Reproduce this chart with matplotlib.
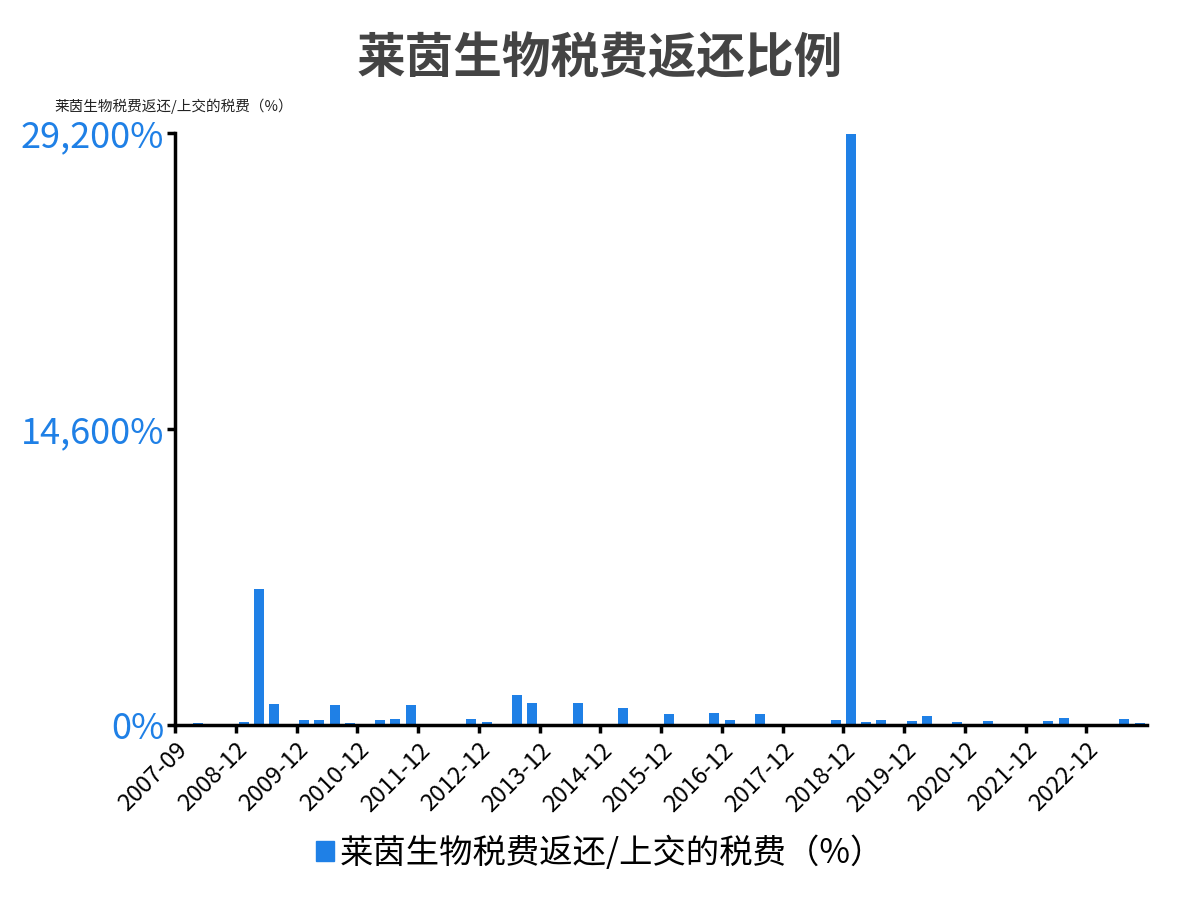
import matplotlib
matplotlib.use("Agg")
import matplotlib.pyplot as plt
from matplotlib.ticker import FuncFormatter
from matplotlib.patches import Patch

plt.rcParams['font.family'] = ['Noto Sans CJK SC', 'DejaVu Sans']

categories = ["2007-09", "2007-12", "2008-06", "2008-09", "2008-12",
              "2009-03", "2009-06", "2009-09", "2009-12",
              "2010-03", "2010-06", "2010-09", "2010-12",
              "2011-03", "2011-06", "2011-09", "2011-12",
              "2012-03", "2012-06", "2012-09", "2012-12",
              "2013-03", "2013-06", "2013-09", "2013-12",
              "2014-03", "2014-06", "2014-09", "2014-12",
              "2015-03", "2015-06", "2015-09", "2015-12",
              "2016-03", "2016-06", "2016-09", "2016-12",
              "2017-03", "2017-06", "2017-09", "2017-12",
              "2018-03", "2018-06", "2018-09", "2018-12",
              "2019-03", "2019-06", "2019-09", "2019-12",
              "2020-03", "2020-06", "2020-09", "2020-12",
              "2021-03", "2021-06", "2021-09", "2021-12",
              "2022-03", "2022-06", "2022-09", "2022-12",
              "2023-03", "2023-06", "2023-09"]
values = [30, 100, 0, 0, 160, 6730, 1070, 0, 280, 260, 1000, 100, 60, 280, 340, 1000,
          30, 50, 0, 300, 160, 60, 1520, 1100, 0, 50, 1100, 60, 0, 870, 0, 0,
          540, 0, 80, 610, 250, 0, 570, 20, 20, 0, 0, 250, 29150, 150, 250, 60,
          230, 480, 10, 150, 80, 230, 0, 15, 0, 230, 360, 0, 30, 80, 340, 130]
yticks = [0, 14600, 29200]
series_name = "莱茵生物税费返还/上交的税费（%）"
title = "莱茵生物税费返还比例"
blue = "#1f80e6"

fig = plt.figure(figsize=(12, 9), dpi=100)
ax = fig.add_axes([0.146, 0.194, 0.81, 0.658])
x = list(range(len(categories)))
ax.bar(x, values, width=0.66, color=blue)
ax.set_xlim(-0.5, len(categories) - 0.5)
ax.set_ylim(0, 29200)
ax.set_yticks(yticks)
ax.yaxis.set_major_formatter(FuncFormatter(lambda v, p: f"{int(v):,}%"))
ax.tick_params(axis='y', labelsize=26, labelcolor=blue, width=2.5, length=6, pad=2)
tick_pos = [i - 0.5 for i in range(0, len(categories), 4)]
ax.set_xticks(tick_pos)
ax.set_xticklabels([categories[i] for i in range(0, len(categories), 4)],
                   rotation=45, ha='right', rotation_mode='anchor', fontsize=17)
ax.tick_params(axis='x', width=2.5, length=6)
for s in ['top', 'right']:
    ax.spines[s].set_visible(False)
for s in ['left', 'bottom']:
    ax.spines[s].set_linewidth(2.5)
fig.text(0.5, 0.935, title, ha='center', va='center', fontsize=35, fontweight='bold', color='#444444')
fig.text(0.045, 0.882, series_name, ha='left', va='center', fontsize=10.5, color='#222222')
fig.legend(handles=[Patch(color=blue, label=series_name)], loc='center', bbox_to_anchor=(0.5, 0.052),
           frameon=False, fontsize=24, handlelength=0.55, handleheight=0.55, handletextpad=0.15)
fig.savefig("out.png")
